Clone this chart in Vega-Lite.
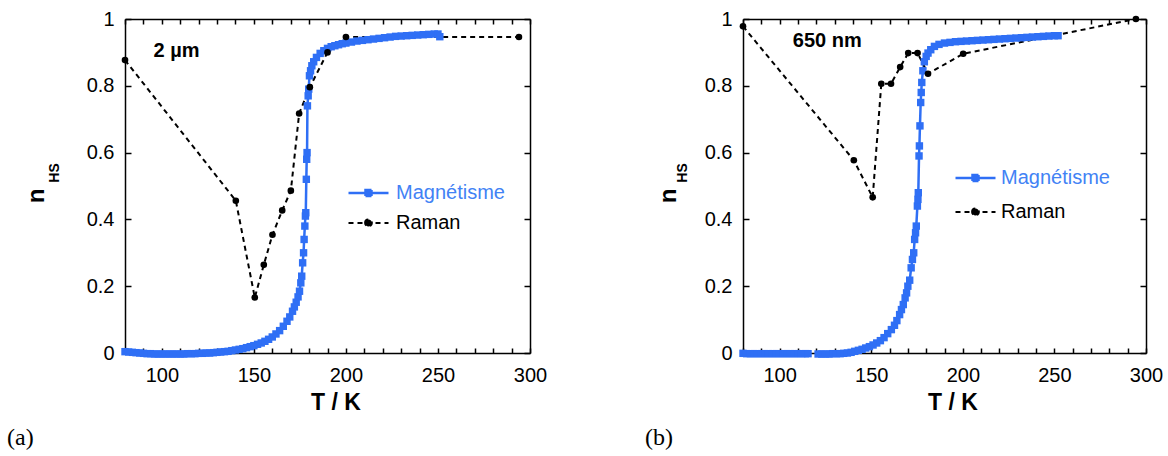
{
  "$schema": "https://vega.github.io/schema/vega-lite/v6.json",
  "background": "white",
  "padding": {"left": 7, "top": 9, "right": 2, "bottom": 2},
  "config": {
    "view": {"stroke": null},
    "axis": {"grid": false},
    "legend": {"padding": 0}
  },
  "datasets": {
    "a": [
      {"T":80,"n":0.004,"s":"Magnétisme"},{"T":82,"n":0.003,"s":"Magnétisme"},{"T":84,"n":0.002,"s":"Magnétisme"},{"T":86,"n":0.001,"s":"Magnétisme"},{"T":88,"n":0.0,"s":"Magnétisme"},{"T":90,"n":-0.001,"s":"Magnétisme"},{"T":92,"n":-0.002,"s":"Magnétisme"},{"T":94,"n":-0.002,"s":"Magnétisme"},{"T":96,"n":-0.003,"s":"Magnétisme"},{"T":98,"n":-0.003,"s":"Magnétisme"},{"T":100,"n":-0.003,"s":"Magnétisme"},{"T":102,"n":-0.003,"s":"Magnétisme"},{"T":104,"n":-0.003,"s":"Magnétisme"},{"T":106,"n":-0.003,"s":"Magnétisme"},{"T":108,"n":-0.003,"s":"Magnétisme"},{"T":110,"n":-0.003,"s":"Magnétisme"},{"T":112,"n":-0.003,"s":"Magnétisme"},{"T":114,"n":-0.002,"s":"Magnétisme"},{"T":116,"n":-0.002,"s":"Magnétisme"},{"T":118,"n":-0.002,"s":"Magnétisme"},{"T":120,"n":-0.001,"s":"Magnétisme"},{"T":122,"n":-0.001,"s":"Magnétisme"},{"T":124,"n":0.0,"s":"Magnétisme"},{"T":126,"n":0.0,"s":"Magnétisme"},{"T":128,"n":0.001,"s":"Magnétisme"},{"T":130,"n":0.002,"s":"Magnétisme"},{"T":132,"n":0.003,"s":"Magnétisme"},{"T":134,"n":0.004,"s":"Magnétisme"},{"T":136,"n":0.005,"s":"Magnétisme"},{"T":138,"n":0.007,"s":"Magnétisme"},{"T":140,"n":0.009,"s":"Magnétisme"},{"T":142,"n":0.011,"s":"Magnétisme"},{"T":144,"n":0.013,"s":"Magnétisme"},{"T":146,"n":0.016,"s":"Magnétisme"},{"T":148,"n":0.019,"s":"Magnétisme"},{"T":150,"n":0.022,"s":"Magnétisme"},{"T":152,"n":0.026,"s":"Magnétisme"},{"T":154,"n":0.03,"s":"Magnétisme"},{"T":156,"n":0.035,"s":"Magnétisme"},{"T":158,"n":0.041,"s":"Magnétisme"},{"T":160,"n":0.048,"s":"Magnétisme"},{"T":162,"n":0.057,"s":"Magnétisme"},{"T":164,"n":0.067,"s":"Magnétisme"},{"T":166,"n":0.08,"s":"Magnétisme"},{"T":168,"n":0.095,"s":"Magnétisme"},{"T":169.5,"n":0.108,"s":"Magnétisme"},{"T":171,"n":0.125,"s":"Magnétisme"},{"T":172,"n":0.138,"s":"Magnétisme"},{"T":173,"n":0.152,"s":"Magnétisme"},{"T":174,"n":0.168,"s":"Magnétisme"},{"T":174.8,"n":0.185,"s":"Magnétisme"},{"T":175.5,"n":0.21,"s":"Magnétisme"},{"T":176,"n":0.23,"s":"Magnétisme"},{"T":176.5,"n":0.27,"s":"Magnétisme"},{"T":177,"n":0.3,"s":"Magnétisme"},{"T":177.3,"n":0.34,"s":"Magnétisme"},{"T":177.7,"n":0.38,"s":"Magnétisme"},{"T":178,"n":0.41,"s":"Magnétisme"},{"T":178.2,"n":0.42,"s":"Magnétisme"},{"T":178.5,"n":0.52,"s":"Magnétisme"},{"T":178.7,"n":0.58,"s":"Magnétisme"},{"T":178.9,"n":0.6,"s":"Magnétisme"},{"T":179.1,"n":0.74,"s":"Magnétisme"},{"T":179.5,"n":0.77,"s":"Magnétisme"},{"T":179.8,"n":0.79,"s":"Magnétisme"},{"T":180.2,"n":0.83,"s":"Magnétisme"},{"T":180.8,"n":0.845,"s":"Magnétisme"},{"T":181.5,"n":0.86,"s":"Magnétisme"},{"T":182.5,"n":0.872,"s":"Magnétisme"},{"T":184,"n":0.885,"s":"Magnétisme"},{"T":186,"n":0.897,"s":"Magnétisme"},{"T":188,"n":0.905,"s":"Magnétisme"},{"T":190,"n":0.912,"s":"Magnétisme"},{"T":192,"n":0.917,"s":"Magnétisme"},{"T":194,"n":0.92,"s":"Magnétisme"},{"T":196,"n":0.923,"s":"Magnétisme"},{"T":198,"n":0.926,"s":"Magnétisme"},{"T":200,"n":0.928,"s":"Magnétisme"},{"T":203,"n":0.931,"s":"Magnétisme"},{"T":206,"n":0.934,"s":"Magnétisme"},{"T":209,"n":0.936,"s":"Magnétisme"},{"T":212,"n":0.938,"s":"Magnétisme"},{"T":215,"n":0.94,"s":"Magnétisme"},{"T":218,"n":0.942,"s":"Magnétisme"},{"T":221,"n":0.944,"s":"Magnétisme"},{"T":224,"n":0.946,"s":"Magnétisme"},{"T":227,"n":0.948,"s":"Magnétisme"},{"T":230,"n":0.949,"s":"Magnétisme"},{"T":233,"n":0.95,"s":"Magnétisme"},{"T":236,"n":0.951,"s":"Magnétisme"},{"T":239,"n":0.952,"s":"Magnétisme"},{"T":242,"n":0.953,"s":"Magnétisme"},{"T":245,"n":0.954,"s":"Magnétisme"},{"T":248,"n":0.955,"s":"Magnétisme"},{"T":250,"n":0.955,"s":"Magnétisme"},{"T":251,"n":0.947,"s":"Magnétisme"},
      {"T":80,"n":0.877,"s":"Raman"},{"T":140.2,"n":0.456,"s":"Raman"},{"T":150.5,"n":0.166,"s":"Raman"},{"T":155.4,"n":0.264,"s":"Raman"},{"T":160.1,"n":0.354,"s":"Raman"},{"T":165.4,"n":0.427,"s":"Raman"},{"T":170.1,"n":0.486,"s":"Raman"},{"T":174.6,"n":0.717,"s":"Raman"},{"T":180.4,"n":0.796,"s":"Raman"},{"T":190,"n":0.9,"s":"Raman"},{"T":200,"n":0.946,"s":"Raman"},{"T":294,"n":0.946,"s":"Raman"}
    ],
    "b": [
      {"T":80,"n":-0.001,"s":"Magnétisme","g":1},{"T":82,"n":-0.002,"s":"Magnétisme","g":1},{"T":84,"n":-0.002,"s":"Magnétisme","g":1},{"T":86,"n":-0.002,"s":"Magnétisme","g":1},{"T":88,"n":-0.002,"s":"Magnétisme","g":1},{"T":90,"n":-0.002,"s":"Magnétisme","g":1},{"T":92,"n":-0.002,"s":"Magnétisme","g":1},{"T":94,"n":-0.002,"s":"Magnétisme","g":1},{"T":96,"n":-0.002,"s":"Magnétisme","g":1},{"T":98,"n":-0.002,"s":"Magnétisme","g":1},{"T":100,"n":-0.002,"s":"Magnétisme","g":1},{"T":102,"n":-0.002,"s":"Magnétisme","g":1},{"T":104,"n":-0.002,"s":"Magnétisme","g":1},{"T":106,"n":-0.002,"s":"Magnétisme","g":1},{"T":108,"n":-0.002,"s":"Magnétisme","g":1},{"T":110,"n":-0.002,"s":"Magnétisme","g":1},{"T":112,"n":-0.002,"s":"Magnétisme","g":1},{"T":114,"n":-0.002,"s":"Magnétisme","g":1},{"T":115.5,"n":-0.002,"s":"Magnétisme","g":1},
      {"T":121,"n":-0.003,"s":"Magnétisme","g":2},{"T":123,"n":-0.003,"s":"Magnétisme","g":2},{"T":125,"n":-0.003,"s":"Magnétisme","g":2},{"T":127,"n":-0.003,"s":"Magnétisme","g":2},{"T":129,"n":-0.002,"s":"Magnétisme","g":2},{"T":131,"n":-0.002,"s":"Magnétisme","g":2},{"T":133,"n":-0.002,"s":"Magnétisme","g":2},{"T":135,"n":-0.001,"s":"Magnétisme","g":2},{"T":137,"n":0.0,"s":"Magnétisme","g":2},{"T":139,"n":0.002,"s":"Magnétisme","g":2},{"T":141,"n":0.005,"s":"Magnétisme","g":2},{"T":143,"n":0.008,"s":"Magnétisme","g":2},{"T":145,"n":0.011,"s":"Magnétisme","g":2},{"T":147,"n":0.015,"s":"Magnétisme","g":2},{"T":149,"n":0.019,"s":"Magnétisme","g":2},{"T":151,"n":0.024,"s":"Magnétisme","g":2},{"T":153,"n":0.03,"s":"Magnétisme","g":2},{"T":155,"n":0.037,"s":"Magnétisme","g":2},{"T":157,"n":0.046,"s":"Magnétisme","g":2},{"T":159,"n":0.058,"s":"Magnétisme","g":2},{"T":161,"n":0.07,"s":"Magnétisme","g":2},{"T":162.7,"n":0.083,"s":"Magnétisme","g":2},{"T":164,"n":0.097,"s":"Magnétisme","g":2},{"T":165.5,"n":0.115,"s":"Magnétisme","g":2},{"T":166.5,"n":0.13,"s":"Magnétisme","g":2},{"T":167.5,"n":0.145,"s":"Magnétisme","g":2},{"T":168.5,"n":0.165,"s":"Magnétisme","g":2},{"T":169.3,"n":0.18,"s":"Magnétisme","g":2},{"T":170,"n":0.2,"s":"Magnétisme","g":2},{"T":171,"n":0.218,"s":"Magnétisme","g":2},{"T":171.8,"n":0.255,"s":"Magnétisme","g":2},{"T":172.5,"n":0.28,"s":"Magnétisme","g":2},{"T":173.2,"n":0.3,"s":"Magnétisme","g":2},{"T":173.7,"n":0.34,"s":"Magnétisme","g":2},{"T":174.2,"n":0.36,"s":"Magnétisme","g":2},{"T":174.6,"n":0.38,"s":"Magnétisme","g":2},{"T":175.2,"n":0.44,"s":"Magnétisme","g":2},{"T":175.5,"n":0.46,"s":"Magnétisme","g":2},{"T":175.7,"n":0.48,"s":"Magnétisme","g":2},{"T":176.1,"n":0.59,"s":"Magnétisme","g":2},{"T":176.3,"n":0.62,"s":"Magnétisme","g":2},{"T":176.6,"n":0.68,"s":"Magnétisme","g":2},{"T":177,"n":0.75,"s":"Magnétisme","g":2},{"T":177.3,"n":0.78,"s":"Magnétisme","g":2},{"T":177.6,"n":0.81,"s":"Magnétisme","g":2},{"T":178.2,"n":0.845,"s":"Magnétisme","g":2},{"T":179,"n":0.872,"s":"Magnétisme","g":2},{"T":180,"n":0.888,"s":"Magnétisme","g":2},{"T":181,"n":0.898,"s":"Magnétisme","g":2},{"T":182.5,"n":0.908,"s":"Magnétisme","g":2},{"T":184.5,"n":0.918,"s":"Magnétisme","g":2},{"T":187,"n":0.924,"s":"Magnétisme","g":2},{"T":190,"n":0.928,"s":"Magnétisme","g":2},{"T":193,"n":0.93,"s":"Magnétisme","g":2},{"T":196,"n":0.932,"s":"Magnétisme","g":2},{"T":199,"n":0.933,"s":"Magnétisme","g":2},{"T":202,"n":0.934,"s":"Magnétisme","g":2},{"T":205,"n":0.935,"s":"Magnétisme","g":2},{"T":208,"n":0.936,"s":"Magnétisme","g":2},{"T":211,"n":0.937,"s":"Magnétisme","g":2},{"T":214,"n":0.938,"s":"Magnétisme","g":2},{"T":217,"n":0.939,"s":"Magnétisme","g":2},{"T":220,"n":0.94,"s":"Magnétisme","g":2},{"T":223,"n":0.941,"s":"Magnétisme","g":2},{"T":226,"n":0.942,"s":"Magnétisme","g":2},{"T":229,"n":0.943,"s":"Magnétisme","g":2},{"T":232,"n":0.944,"s":"Magnétisme","g":2},{"T":235,"n":0.945,"s":"Magnétisme","g":2},{"T":238,"n":0.946,"s":"Magnétisme","g":2},{"T":241,"n":0.947,"s":"Magnétisme","g":2},{"T":244,"n":0.948,"s":"Magnétisme","g":2},{"T":247,"n":0.949,"s":"Magnétisme","g":2},{"T":250,"n":0.95,"s":"Magnétisme","g":2},{"T":252,"n":0.95,"s":"Magnétisme","g":2},
      {"T":80,"n":0.978,"s":"Raman","g":1},{"T":140.5,"n":0.577,"s":"Raman","g":1},{"T":150.8,"n":0.466,"s":"Raman","g":1},{"T":155.5,"n":0.806,"s":"Raman","g":1},{"T":160.8,"n":0.806,"s":"Raman","g":1},{"T":165.8,"n":0.856,"s":"Raman","g":1},{"T":170.2,"n":0.898,"s":"Raman","g":1},{"T":175.3,"n":0.898,"s":"Raman","g":1},{"T":181,"n":0.836,"s":"Raman","g":1},{"T":200.2,"n":0.896,"s":"Raman","g":1},{"T":294.5,"n":1.0,"s":"Raman","g":1}
    ]
  },
  "spacing": 98,
  "resolve": {
    "scale": {"color": "independent", "strokeDash": "independent", "strokeWidth": "independent"},
    "legend": {"color": "independent"}
  },
  "hconcat": [
    {
      "title": {"text": "(a)", "orient": "bottom", "anchor": "start", "frame": "bounds", "font": "Liberation Serif", "fontSize": 24, "fontWeight": "normal", "color": "black", "offset": 12, "dx": -18},
      "vconcat": [
        {
          "width": 405, "height": 334,
          "title": {"text": "n", "orient": "left", "anchor": "middle", "frame": "group", "font": "Liberation Sans", "fontSize": 24, "fontWeight": "bold", "color": "black", "offset": -2, "dx": -10},
          "data": {"name": "a"},
          "resolve": {"axis": {"x": "independent", "y": "independent"}},
          "layer": [
            {
              "mark": {"type": "line"},
              "encoding": {
                "x": {"field": "T", "type": "quantitative", "scale": {"domain": [80, 300], "nice": false, "zero": false},
                  "axis": {"orient": "bottom", "values": [80,90,100,110,120,130,140,150,160,170,180,190,200,210,220,230,240,250,260,270,280,290,300], "labelExpr": "datum.value % 50 === 0 ? datum.label : ''", "labelFlush": false, "labelOverlap": false, "tickSize": -5, "tickWidth": 1.5, "tickColor": "black", "domainColor": "black", "domainWidth": 1.5, "labelPadding": 17, "labelFont": "Liberation Sans", "labelFontSize": 20, "labelColor": "black", "title": "T / K", "titleFont": "Liberation Sans", "titleFontSize": 23, "titleFontWeight": "bold", "titleColor": "black", "titlePadding": 6, "titleX": 210.5}},
                "y": {"field": "n", "type": "quantitative", "scale": {"domain": [0, 1], "nice": false, "zero": false},
                  "axis": {"orient": "left", "values": [0,0.2,0.4,0.6,0.8,1], "format": "~g", "tickSize": -6, "tickWidth": 1.5, "tickColor": "black", "domainColor": "black", "domainWidth": 1.5, "labelPadding": 17, "labelFont": "Liberation Sans", "labelFontSize": 20, "labelColor": "black",
                    "title": "HS", "titleFont": "Liberation Sans", "titleFontSize": 14, "titleFontWeight": "bold", "titleColor": "black", "titleAngle": 270, "titleAlign": "center", "titleBaseline": "middle", "titleX": -71, "titleY": 153.5}},
                "color": {"field": "s", "type": "nominal", "scale": {"domain": ["Magnétisme", "Raman"], "range": ["#2f6ff5", "#000000"]},
                  "legend": {"orient": "none", "legendX": 222, "legendY": 164, "title": null, "padding": 0, "labelFont": "Liberation Sans", "labelFontSize": 20, "labelOffset": 6, "symbolSize": 1600, "clipHeight": 20, "rowPadding": 10,
                    "symbolType": {"expr": "datum.value === 'Raman' ? 'M-1,0H1M-0.17,0A0.17,0.17,0,1,1,0.17,0A0.17,0.17,0,1,1,-0.17,0Z' : 'M-1,0H1M-0.15,-0.15H0.15V0.15H-0.15Z'"},
                    "symbolFillColor": {"expr": "datum.value === 'Raman' ? '#000000' : '#2f6ff5'"},
                    "symbolStrokeColor": {"expr": "datum.value === 'Raman' ? '#000000' : '#2f6ff5'"},
                    "symbolDash": {"expr": "datum.value === 'Raman' ? [5,4] : [1,0]"},
                    "symbolStrokeWidth": {"expr": "datum.value === 'Raman' ? 2 : 2.5"},
                    "symbolOpacity": 1,
                    "labelColor": {"expr": "datum.value === 'Raman' ? '#000000' : '#4282f5'"}}},
                "strokeDash": {"field": "s", "type": "nominal", "scale": {"domain": ["Magnétisme", "Raman"], "range": [[1, 0], [5, 4]]}, "legend": null},
                "strokeWidth": {"field": "s", "type": "nominal", "scale": {"domain": ["Magnétisme", "Raman"], "range": [2.5, 2]}, "legend": null}
              }
            },
            {
              "transform": [{"filter": "datum.s === 'Magnétisme'"}],
              "mark": {"type": "point", "shape": "square", "filled": true, "opacity": 1, "size": 55, "color": "#2f6ff5"},
              "encoding": {
                "x": {"field": "T", "type": "quantitative",
                  "axis": {"orient": "top", "values": [80,90,100,110,120,130,140,150,160,170,180,190,200,210,220,230,240,250,260,270,280,290,300], "labels": false, "tickSize": -5, "tickWidth": 1.5, "tickColor": "black", "domainColor": "black", "domainWidth": 1.5, "title": null}},
                "y": {"field": "n", "type": "quantitative",
                  "axis": {"orient": "right", "values": [0,0.2,0.4,0.6,0.8,1], "labels": false, "tickSize": -6, "tickWidth": 1.5, "tickColor": "black", "domainColor": "black", "domainWidth": 1.5, "title": null}}
              }
            },
            {
              "transform": [{"filter": "datum.s === 'Raman'"}],
              "mark": {"type": "point", "shape": "circle", "filled": true, "opacity": 1, "size": 44, "color": "#000000"},
              "encoding": {
                "x": {"field": "T", "type": "quantitative", "axis": null},
                "y": {"field": "n", "type": "quantitative", "axis": null}
              }
            },
            {
              "data": {"values": [{}]},
              "mark": {"type": "text", "font": "Liberation Sans", "fontSize": 20, "fontWeight": "bold", "color": "black", "align": "center", "baseline": "middle"},
              "encoding": {
                "x": {"datum": 108, "type": "quantitative", "axis": null},
                "y": {"datum": 0.905, "type": "quantitative", "axis": null},
                "text": {"value": "2 µm"}
              }
            }
          ]
        }
      ]
    },
    {
      "title": {"text": "(b)", "orient": "bottom", "anchor": "start", "frame": "bounds", "font": "Liberation Serif", "fontSize": 24, "fontWeight": "normal", "color": "black", "offset": 12, "dx": -12},
      "vconcat": [
        {
          "width": 403, "height": 334,
          "title": {"text": "n", "orient": "left", "anchor": "middle", "frame": "group", "font": "Liberation Sans", "fontSize": 24, "fontWeight": "bold", "color": "black", "offset": -6, "dx": -10},
          "data": {"name": "b"},
          "resolve": {"axis": {"x": "independent", "y": "independent"}},
          "layer": [
            {
              "mark": {"type": "line"},
              "encoding": {
                "x": {"field": "T", "type": "quantitative", "scale": {"domain": [80, 300], "nice": false, "zero": false},
                  "axis": {"orient": "bottom", "values": [80,90,100,110,120,130,140,150,160,170,180,190,200,210,220,230,240,250,260,270,280,290,300], "labelExpr": "datum.value % 50 === 0 ? datum.label : ''", "labelFlush": false, "labelOverlap": false, "tickSize": -5, "tickWidth": 1.5, "tickColor": "black", "domainColor": "black", "domainWidth": 1.5, "labelPadding": 17, "labelFont": "Liberation Sans", "labelFontSize": 20, "labelColor": "black", "title": "T / K", "titleFont": "Liberation Sans", "titleFontSize": 23, "titleFontWeight": "bold", "titleColor": "black", "titlePadding": 6, "titleX": 209.5}},
                "y": {"field": "n", "type": "quantitative", "scale": {"domain": [0, 1], "nice": false, "zero": false},
                  "axis": {"orient": "left", "values": [0,0.2,0.4,0.6,0.8,1], "format": "~g", "tickSize": -6, "tickWidth": 1.5, "tickColor": "black", "domainColor": "black", "domainWidth": 1.5, "labelPadding": 17, "labelFont": "Liberation Sans", "labelFontSize": 20, "labelColor": "black",
                    "title": "HS", "titleFont": "Liberation Sans", "titleFontSize": 14, "titleFontWeight": "bold", "titleColor": "black", "titleAngle": 270, "titleAlign": "center", "titleBaseline": "middle", "titleX": -61, "titleY": 153.5}},
                "color": {"field": "s", "type": "nominal", "scale": {"domain": ["Magnétisme", "Raman"], "range": ["#2f6ff5", "#000000"]},
                  "legend": {"orient": "none", "legendX": 211, "legendY": 149, "title": null, "padding": 0, "labelFont": "Liberation Sans", "labelFontSize": 20, "labelOffset": 4, "symbolSize": 1600, "clipHeight": 20, "rowPadding": 14,
                    "symbolType": {"expr": "datum.value === 'Raman' ? 'M-1,0H1M-0.17,0A0.17,0.17,0,1,1,0.17,0A0.17,0.17,0,1,1,-0.17,0Z' : 'M-1,0H1M-0.15,-0.15H0.15V0.15H-0.15Z'"},
                    "symbolFillColor": {"expr": "datum.value === 'Raman' ? '#000000' : '#2f6ff5'"},
                    "symbolStrokeColor": {"expr": "datum.value === 'Raman' ? '#000000' : '#2f6ff5'"},
                    "symbolDash": {"expr": "datum.value === 'Raman' ? [5,4] : [1,0]"},
                    "symbolStrokeWidth": {"expr": "datum.value === 'Raman' ? 2 : 2.5"},
                    "symbolOpacity": 1,
                    "labelColor": {"expr": "datum.value === 'Raman' ? '#000000' : '#4282f5'"}}},
                "detail": {"field": "g", "type": "nominal"},
                "strokeDash": {"field": "s", "type": "nominal", "scale": {"domain": ["Magnétisme", "Raman"], "range": [[1, 0], [5, 4]]}, "legend": null},
                "strokeWidth": {"field": "s", "type": "nominal", "scale": {"domain": ["Magnétisme", "Raman"], "range": [2.5, 2]}, "legend": null}
              }
            },
            {
              "transform": [{"filter": "datum.s === 'Magnétisme'"}],
              "mark": {"type": "point", "shape": "square", "filled": true, "opacity": 1, "size": 55, "color": "#2f6ff5"},
              "encoding": {
                "x": {"field": "T", "type": "quantitative",
                  "axis": {"orient": "top", "values": [80,90,100,110,120,130,140,150,160,170,180,190,200,210,220,230,240,250,260,270,280,290,300], "labels": false, "tickSize": -5, "tickWidth": 1.5, "tickColor": "black", "domainColor": "black", "domainWidth": 1.5, "title": null}},
                "y": {"field": "n", "type": "quantitative",
                  "axis": {"orient": "right", "values": [0,0.2,0.4,0.6,0.8,1], "labels": false, "tickSize": -6, "tickWidth": 1.5, "tickColor": "black", "domainColor": "black", "domainWidth": 1.5, "title": null}}
              }
            },
            {
              "transform": [{"filter": "datum.s === 'Raman'"}],
              "mark": {"type": "point", "shape": "circle", "filled": true, "opacity": 1, "size": 44, "color": "#000000"},
              "encoding": {
                "x": {"field": "T", "type": "quantitative", "axis": null},
                "y": {"field": "n", "type": "quantitative", "axis": null}
              }
            },
            {
              "data": {"values": [{}]},
              "mark": {"type": "text", "font": "Liberation Sans", "fontSize": 20, "fontWeight": "bold", "color": "black", "align": "center", "baseline": "middle"},
              "encoding": {
                "x": {"datum": 126, "type": "quantitative", "axis": null},
                "y": {"datum": 0.935, "type": "quantitative", "axis": null},
                "text": {"value": "650 nm"}
              }
            }
          ]
        }
      ]
    }
  ]
}
